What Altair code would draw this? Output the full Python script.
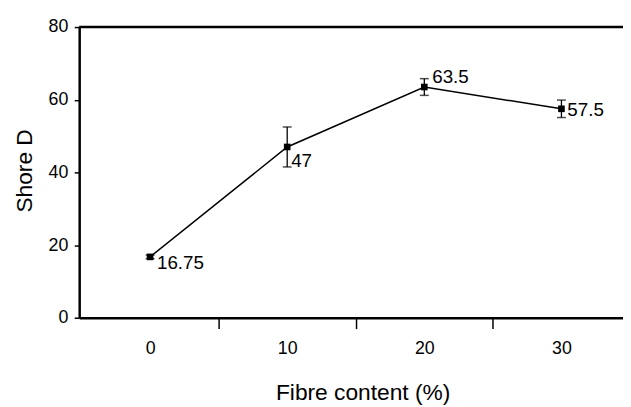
import altair as alt
import pandas as pd

fibre = [0, 10, 20, 30]
shore = [16.75, 47, 63.5, 57.5]
err = [0.5, 5.5, 2.3, 2.4]
labels = ["16.75", "47", "63.5", "57.5"]
y_ticks = [0, 20, 40, 60, 80]
x_ticks = [0, 5, 10, 15, 20, 25, 30]

df = pd.DataFrame({"fibre": fibre, "shore": shore, "err": err, "label": labels})
df["lo"] = df["shore"] - df["err"]
df["hi"] = df["shore"] + df["err"]

FONT = "Liberation Sans"
W, H = 550, 294

xscale = alt.Scale(domain=[-5.17, 34.49], nice=False, zero=False)
yscale = alt.Scale(domain=[0, 80], nice=False)

xaxis = alt.Axis(
    title="Fibre content (%)", values=x_ticks, grid=False,
    labelExpr="datum.value % 10 === 0 ? datum.label : ''",
    labelOverlap=False, labelFlush=False,
    tickSize=11, tickWidth=1.5, tickColor="black",
    tickOpacity={"condition": {"test": "datum.value % 10 === 5", "value": 1}, "value": 0},
    labelPadding=25.5, labelBaseline="alphabetic", labelFontSize=18, labelFont=FONT, labelColor="black",
    domainWidth=2.5, domainColor="black",
    titleFont=FONT, titleFontSize=23, titleFontWeight="normal", titleColor="black",
    titleX=286.7, titleY=83, titleBaseline="alphabetic", titleAlign="center",
)
yaxis = alt.Axis(
    title="Shore D", values=y_ticks, grid=False,
    tickSize=5, tickWidth=1.5, tickColor="black",
    labelPadding=6.5, labelFontSize=18, labelFont=FONT, labelColor="black",
    domainWidth=2.5, domainColor="black",
    titleFont=FONT, titleFontSize=23, titleFontWeight="normal", titleColor="black",
    titleX=-48.5, titleY=145, titleBaseline="alphabetic", titleAlign="center", titleAngle=-90,
)

base = alt.Chart(df)
x = alt.X("fibre:Q", scale=xscale, axis=xaxis)
y = alt.Y("shore:Q", scale=yscale, axis=yaxis)

line = base.mark_line(color="black", strokeWidth=1.5).encode(x=x, y=y)
bars = base.mark_rule(color="black", strokeWidth=1.3).encode(
    x="fibre:Q", y=alt.Y("lo:Q"), y2="hi:Q")
cap_lo = base.mark_tick(color="black", orient="horizontal", size=9, thickness=1.5).encode(
    x="fibre:Q", y="lo:Q")
cap_hi = base.mark_tick(color="black", orient="horizontal", size=9, thickness=1.5).encode(
    x="fibre:Q", y="hi:Q")
pts = base.mark_square(color="black", size=45, opacity=1).encode(x="fibre:Q", y="shore:Q")

label_style = [(7, 12), (4, 20.5), (8, -4), (6, 7)]
texts = []
for lab, (dx, dy) in zip(labels, label_style):
    texts.append(
        base.transform_filter(alt.datum.label == lab)
        .mark_text(align="left", baseline="alphabetic", dx=dx, dy=dy, font=FONT, fontSize=19, color="black")
        .encode(x="fibre:Q", y="shore:Q", text="label:N")
    )

top = alt.Chart(pd.DataFrame({"v": [80]})).mark_rule(color="black", strokeWidth=2.5).encode(
    y=alt.Y("v:Q"), x=alt.value(0), x2=alt.value(W))

chart = alt.layer(top, line, bars, cap_lo, cap_hi, pts, *texts).properties(
    width=W, height=H,
    autosize=alt.AutoSizeParams(type="none"),
    padding={"left": 72, "top": 17, "right": 0, "bottom": 88},
).configure_view(stroke=None).configure(background="white")

chart.save("out.html", embed_options={"renderer": "svg", "actions": False})
